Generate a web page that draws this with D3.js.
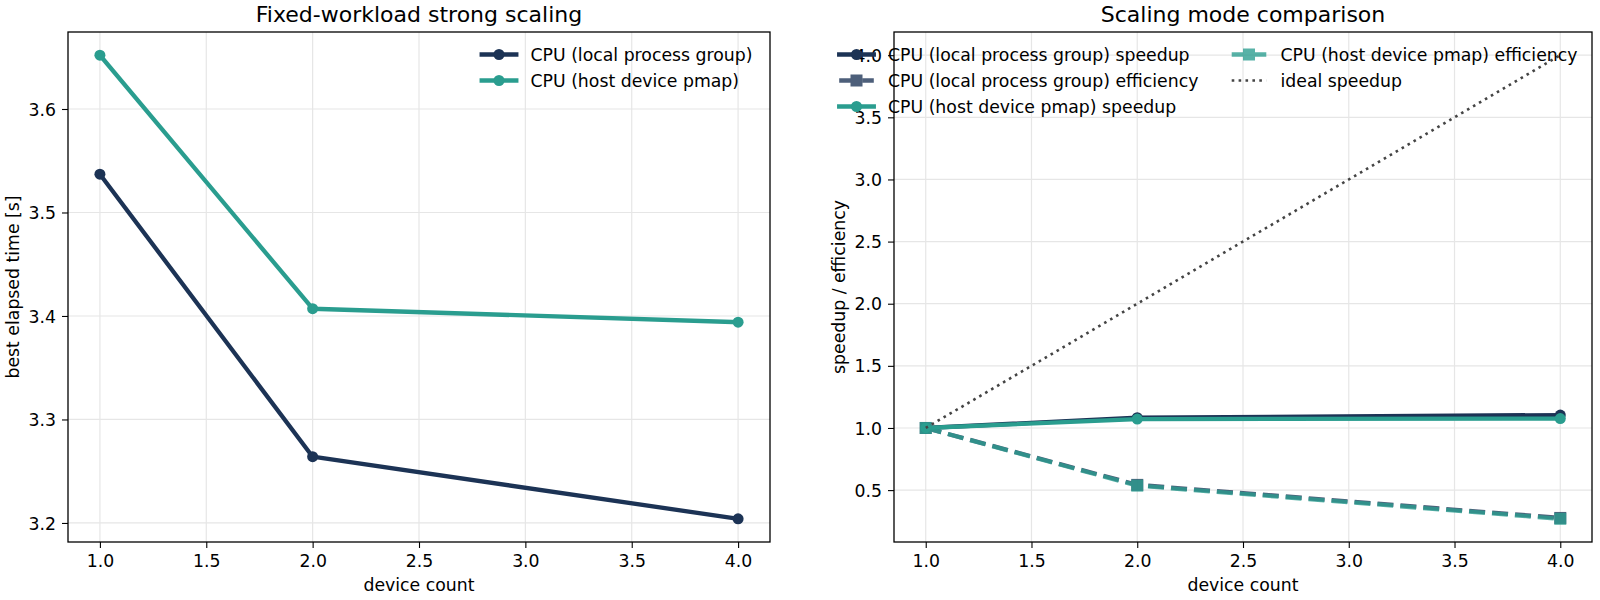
<!DOCTYPE html>
<html><head><meta charset="utf-8">
<script src="https://cdn.jsdelivr.net/npm/d3@7"></script>
<style>
body{margin:0;background:#fff;}
svg text{font-family:"DejaVu Sans",sans-serif;fill:#000;}
</style></head>
<body><svg id="c" width="1600" height="600"></svg>
<script>
// ---- data ----
const deviceCounts = [1, 2, 4];
const timeLocal = [3.537, 3.264, 3.204];
const timeHost = [3.652, 3.407, 3.394];
const speedupLocal = [1.0, 1.083, 1.104];
const efficiencyLocal = [1.0, 0.542, 0.276];
const speedupHost = [1.0, 1.072, 1.076];
const efficiencyHost = [1.0, 0.536, 0.269];
const idealSpeedup = [1, 2, 4];
const xTicks = [1.0, 1.5, 2.0, 2.5, 3.0, 3.5, 4.0];
const yTicksLeft = [3.2, 3.3, 3.4, 3.5, 3.6];
const yTicksRight = [0.5, 1.0, 1.5, 2.0, 2.5, 3.0, 3.5, 4.0];

const NAVY = "#1c3355", TEAL = "#2a9d8f";
const FS = 17.3, LFS = 17.3;
const svg = d3.select("#c");

function panel(cfg){
  const x = d3.scaleLinear().domain([0.85, 4.15]).range([cfg.left, cfg.right]);
  const y = d3.scaleLinear().domain(cfg.ydom).range([542, 32]);
  const g = svg.append("g");
  // grid
  g.append("g").selectAll("line").data(xTicks).join("line")
    .attr("x1", d=>x(d)).attr("x2", d=>x(d)).attr("y1", 32).attr("y2", 542)
    .attr("stroke", "#e6e6e6").attr("stroke-width", 1.2);
  g.append("g").selectAll("line").data(cfg.yticks).join("line")
    .attr("y1", d=>y(d)).attr("y2", d=>y(d)).attr("x1", cfg.left).attr("x2", cfg.right)
    .attr("stroke", "#e6e6e6").attr("stroke-width", 1.2);
  // axes
  const xa = g.append("g").attr("transform", "translate(0,542)")
    .call(d3.axisBottom(x).tickValues(xTicks).tickFormat(d3.format(".1f")).tickSize(6).tickPadding(6));
  const ya = g.append("g").attr("transform", `translate(${cfg.left},0)`)
    .call(d3.axisLeft(y).tickValues(cfg.yticks).tickFormat(d3.format(".1f")).tickSize(6).tickPadding(6));
  [xa, ya].forEach(a=>{
    a.select(".domain").remove();
    a.selectAll("line").attr("stroke", "#000").attr("stroke-width", 1.1);
    a.selectAll("text").attr("font-size", FS).attr("font-family", "DejaVu Sans").attr("fill", "#000");
  });
  xa.selectAll("text").attr("dy", null).attr("y", 25).attr("dominant-baseline", "auto");
  ya.selectAll("text").attr("dy", "0.35em");
  // frame
  g.append("rect").attr("x", cfg.left).attr("y", 32).attr("width", cfg.right-cfg.left).attr("height", 510)
    .attr("fill", "none").attr("stroke", "#000").attr("stroke-width", 1.3);
  // title & labels
  g.append("text").attr("x", (cfg.left+cfg.right)/2).attr("y", 22).attr("text-anchor", "middle")
    .attr("font-size", 22).text(cfg.title);
  g.append("text").attr("x", (cfg.left+cfg.right)/2).attr("y", 591).attr("text-anchor", "middle")
    .attr("font-size", FS).text("device count");
  g.append("text").attr("transform", `translate(${cfg.ylabX},${(32+542)/2}) rotate(-90)`)
    .attr("text-anchor", "middle").attr("dominant-baseline", "central")
    .attr("font-size", FS).text(cfg.ylabel);
  return {x, y, g};
}

function series(p, vals, o){
  const line = d3.line().x((d,i)=>p.x(deviceCounts[i])).y(d=>p.y(d));
  const gg = p.g.append("g").attr("opacity", o.opacity || 1);
  gg.append("path").datum(vals).attr("d", line).attr("fill", "none")
    .attr("stroke", o.color).attr("stroke-width", o.width || 4.3)
    .attr("stroke-dasharray", o.dash || null).attr("stroke-linejoin", "round")
    .attr("stroke-linecap", o.dash ? "butt" : "square");
  if (o.marker === "circle") {
    gg.selectAll("circle").data(vals).join("circle")
      .attr("cx", (d,i)=>p.x(deviceCounts[i])).attr("cy", d=>p.y(d)).attr("r", 5.5).attr("fill", o.color);
  } else if (o.marker === "square") {
    gg.selectAll("rect").data(vals).join("rect")
      .attr("x", (d,i)=>p.x(deviceCounts[i])-6).attr("y", d=>p.y(d)-6)
      .attr("width", 12).attr("height", 12).attr("fill", o.color);
  }
}

function legendItem(x0, y0, label, o){
  const gg = svg.append("g").attr("opacity", o.opacity || 1);
  gg.append("line").attr("x1", x0-17.3).attr("x2", x0+17.3).attr("y1", y0).attr("y2", y0)
    .attr("stroke", o.color).attr("stroke-width", o.width || 4.3).attr("stroke-dasharray", o.dash || null)
    .attr("stroke-linecap", o.dash ? "butt" : "square");
  if (o.marker === "circle") gg.append("circle").attr("cx", x0).attr("cy", y0).attr("r", 5.5).attr("fill", o.color);
  if (o.marker === "square") gg.append("rect").attr("x", x0-6).attr("y", y0-6).attr("width", 12).attr("height", 12).attr("fill", o.color);
  svg.append("text").attr("x", x0+31.5).attr("y", y0).attr("dominant-baseline", "central")
    .attr("font-size", LFS).text(label);
}

// ---- left panel ----
const L = panel({left:68, right:770, ydom:[3.1816, 3.6744], yticks:yTicksLeft,
  title:"Fixed-workload strong scaling", ylabel:"best elapsed time [s]", ylabX:13});
series(L, timeLocal, {color:NAVY, marker:"circle"});
series(L, timeHost, {color:TEAL, marker:"circle"});
legendItem(499, 54.5, "CPU (local process group)", {color:NAVY, marker:"circle"});
legendItem(499, 80.5, "CPU (host device pmap)", {color:TEAL, marker:"circle"});

// ---- right panel ----
const R = panel({left:894, right:1592, ydom:[0.0824, 4.1866], yticks:yTicksRight,
  title:"Scaling mode comparison", ylabel:"speedup / efficiency", ylabX:839});
series(R, speedupLocal, {color:NAVY, marker:"circle"});
series(R, efficiencyLocal, {color:NAVY, marker:"square", dash:"16,7", opacity:0.78});
series(R, speedupHost, {color:TEAL, marker:"circle"});
series(R, efficiencyHost, {color:TEAL, marker:"square", dash:"16,7", opacity:0.78});
series(R, idealSpeedup, {color:"#444", width:2.6, dash:"2.6,4.3"});
legendItem(856.5, 54.5, "CPU (local process group) speedup", {color:NAVY, marker:"circle"});
legendItem(856.5, 80.5, "CPU (local process group) efficiency", {color:NAVY, marker:"square", dash:"16,7", opacity:0.78});
legendItem(856.5, 106.5, "CPU (host device pmap) speedup", {color:TEAL, marker:"circle"});
legendItem(1249, 54.5, "CPU (host device pmap) efficiency", {color:TEAL, marker:"square", dash:"16,7", opacity:0.78});
legendItem(1249, 80.5, "ideal speedup", {color:"#444", width:2.6, dash:"2.6,4.3"});
</script></body></html>
